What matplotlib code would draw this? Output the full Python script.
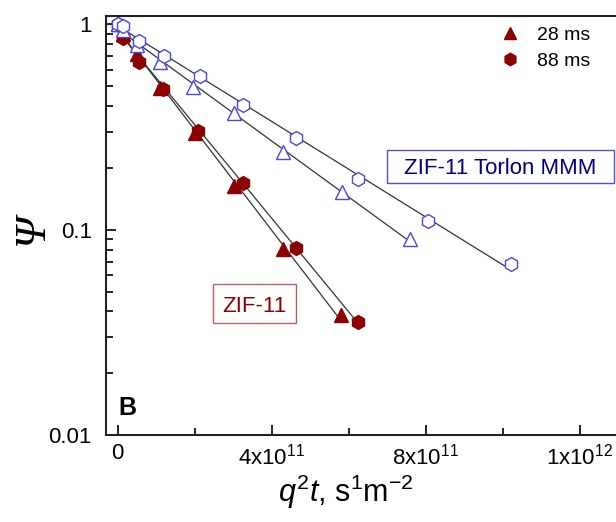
import numpy as np
import matplotlib
matplotlib.use("Agg")
import matplotlib.pyplot as plt
from matplotlib.lines import Line2D
from matplotlib.patches import Rectangle
from matplotlib.ticker import FixedLocator, FixedFormatter, LogLocator, NullFormatter

plt.rcParams['font.family'] = ['Liberation Sans', 'DejaVu Sans']
plt.rcParams['mathtext.fontset'] = 'custom'
plt.rcParams['mathtext.rm'] = 'Liberation Sans'
plt.rcParams['mathtext.it'] = 'Liberation Sans:italic'

# ---- data (q^2 t in s m^-2, Psi) ----
x_28 = [0.0, 1.3e10, 5.1e10, 1.10e11, 1.97e11, 3.02e11, 4.30e11, 5.83e11, 7.59e11]
x_88 = [0.0, 1.4e10, 5.6e10, 1.21e11, 2.13e11, 3.26e11, 4.63e11, 6.24e11, 8.07e11, 1.021e12]

zif_28_x = [0.0, 1.3e10, 5.1e10, 1.10e11, 2.01e11, 3.02e11, 4.30e11, 5.81e11]
zif_28_y = [1.0, 0.894, 0.722, 0.493, 0.297, 0.164, 0.0808, 0.0385]
zif_88_x = [0.0, 1.4e10, 5.6e10, 1.18e11, 2.10e11, 3.25e11, 4.63e11, 6.24e11]
zif_88_y = [1.0, 0.864, 0.660, 0.487, 0.304, 0.169, 0.0819, 0.0356]

mmm_28_y = [1.0, 0.945, 0.790, 0.653, 0.498, 0.372, 0.238, 0.152, 0.0904]
mmm_88_y = [1.0, 0.978, 0.835, 0.706, 0.564, 0.407, 0.281, 0.177, 0.110, 0.0677]

x_ticks = [0, 4e11, 8e11, 1.2e12]
x_ticklabels = ['0', r'4x10$^{11}$', r'8x10$^{11}$', r'1x10$^{12}$']
y_ticks = [0.01, 0.1, 1]
y_ticklabels = ['0.01', '0.1', '1']
legend_labels = ['28 ms', '88 ms']

RED = '#8b0000'
BLUE = '#4848dc'
LINE = '#333333'
W, H = 616, 522

fig = plt.figure(figsize=(W / 100, H / 100), dpi=100)
ax = fig.add_axes([0.1716, 0.1667, 0.8317, 0.8027])
ax.set_yscale('log')
ax.set_xlim(-3.1e10, 1.3e12)
ax.set_ylim(0.01, 1.1)

def fitline(xs, ys):
    xs = np.asarray(xs); ys = np.asarray(ys)
    p = np.polyfit(xs, np.log(ys), 1)
    xx = np.array([xs.min(), xs.max()])
    return xx, np.exp(np.polyval(p, xx))

for xs, ys in [(zif_28_x, zif_28_y), (zif_88_x, zif_88_y), (x_28, mmm_28_y), (x_88, mmm_88_y)]:
    xx, yy = fitline(xs, ys)
    ax.plot(xx, yy, color=LINE, lw=0.9, zorder=1)

ax.plot(zif_28_x, zif_28_y, ls='none', marker='^', ms=10, color=RED, zorder=3)
ax.plot(zif_88_x, zif_88_y, ls='none', marker='h', ms=10, color=RED, zorder=3)
ax.plot(x_28, mmm_28_y, ls='none', marker='^', ms=10, mfc='white', mec=BLUE, mew=1.0, zorder=4)
ax.plot(x_88, mmm_88_y, ls='none', marker='h', ms=10, mfc='white', mec=BLUE, mew=1.0, zorder=4)

ax.xaxis.set_major_locator(FixedLocator(x_ticks))
ax.xaxis.set_major_formatter(FixedFormatter(x_ticklabels))
ax.xaxis.set_minor_locator(FixedLocator([2e11, 6e11, 1e12]))
ax.yaxis.set_major_locator(FixedLocator(y_ticks))
ax.yaxis.set_major_formatter(FixedFormatter(y_ticklabels))
ax.yaxis.set_minor_locator(LogLocator(base=10, subs=np.arange(2, 10)))
ax.yaxis.set_minor_formatter(NullFormatter())

ax.tick_params(which='both', direction='in', top=False, right=False, width=1.2, labelsize=16)
ax.tick_params(which='major', length=7)
ax.tick_params(which='minor', length=5)
ax.tick_params(axis='y', pad=10)
ax.tick_params(axis='x', pad=6)
for s in ax.spines.values():
    s.set_linewidth(1.5)
    s.set_color('#222222')

fig.text(0.052, 0.56, '\u03A8', family='Liberation Serif', style='italic', fontsize=32,
         ha='center', va='center', rotation=90)
ax.set_xlabel(r'$q^2t$, s$^1$m$^{-2}$', fontsize=22)
ax.xaxis.set_label_coords(0.469, -0.09)

ax.text(0.025, 0.035, 'B', transform=ax.transAxes, fontsize=18, fontweight='bold', ha='left', va='bottom')

# boxed labels (boxes in pixel coordinates)
def boxed(label, x0, y0, x1, y1, tcolor, ecolor):
    fig.patches.append(Rectangle((x0 / W, 1 - y1 / H), (x1 - x0) / W, (y1 - y0) / H,
                                 transform=fig.transFigure, fill=False, ec=ecolor, lw=1.0, zorder=10))
    fig.text((x0 + x1) / 2 / W, 1 - (y0 + y1) / 2 / H, label, color=tcolor, fontsize=16,
             ha='center', va='center_baseline', zorder=11)

boxed('ZIF-11 Torlon MMM', 387, 150, 614, 183, '#000080', '#5050d0')
boxed('ZIF-11', 213, 284, 296, 323, RED, '#c06060')

legend_handles = [
    Line2D([], [], ls='none', marker='^', ms=9, color=RED),
    Line2D([], [], ls='none', marker='h', ms=9, color=RED),
]
ax.legend(legend_handles, legend_labels, loc='upper right', bbox_to_anchor=(0.967, 1.0),
          frameon=False, fontsize=14, handlelength=1.0, handletextpad=0.9, labelspacing=0.4,
          borderaxespad=0.15)

plt.savefig('out.png', dpi=100)
